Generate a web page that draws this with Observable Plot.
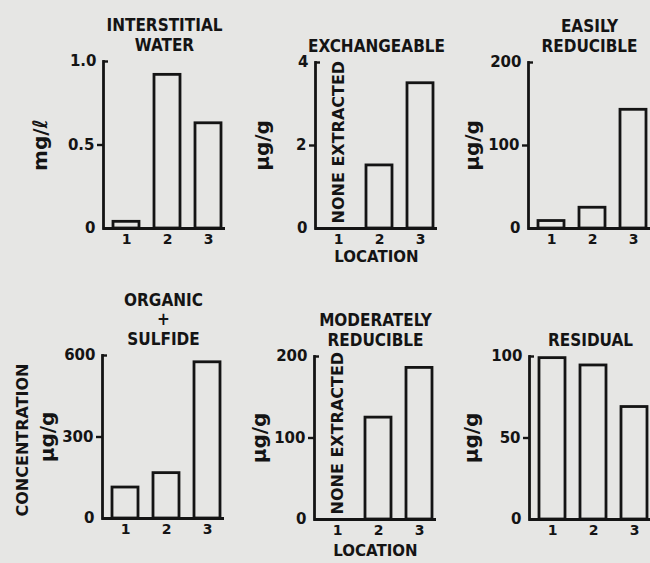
<!DOCTYPE html>
<html><head><meta charset="utf-8">
<script src="https://cdn.jsdelivr.net/npm/d3@7"></script>
<script src="https://cdn.jsdelivr.net/npm/@observablehq/plot@0.6"></script>
<style>
html,body{margin:0;padding:0;background:#e6e6e4;}
#chart{position:relative;width:650px;height:563px;background:#e6e6e4;overflow:hidden;}
#chart svg{position:absolute;left:0;top:0;}
</style></head><body><div id="chart"></div>
<script>
// ---- data ----
const locations = ["1", "2", "3"];
const titles = ["INTERSTITIAL\nWATER", "EXCHANGEABLE", "EASILY\nREDUCIBLE", "ORGANIC\n+\nSULFIDE", "MODERATELY\nREDUCIBLE", "RESIDUAL"];
const units = ["mg/ℓ", "µg/g", "µg/g", "µg/g", "µg/g", "µg/g"];
const interstitialWater = [0.04, 0.92, 0.63];
const exchangeable = [null, 1.52, 3.5];
const easilyReducible = [9, 25, 143];
const organicSulfide = [114, 167, 575];
const moderatelyReducible = [null, 125, 186];
const residual = [99, 94.5, 69];
const yMax = [1, 4, 200, 600, 200, 100];
const yMid = [0.5, 2, 100, 300, 100, 50];
const yTickLabels = [["0", "0.5", "1.0"], ["0", "2", "4"], ["0", "100", "200"], ["0", "300", "600"], ["0", "100", "200"], ["0", "50", "100"]];
const xAxisTitles = [null, "LOCATION", null, null, "LOCATION", null];
const noneLabel = "NONE EXTRACTED";
const sharedYLabel = "CONCENTRATION";
const series = [interstitialWater, exchangeable, easilyReducible, organicSulfide, moderatelyReducible, residual];

// ---- layout (pixels) ----
const W = 650, H = 563, frameW = 122;
const frames = [
  {l: 103, t: 61, b: 228, unitDx: -63, xTitleDy: 33},
  {l: 315, t: 62, b: 228, unitDx: -53, xTitleDy: 33},
  {l: 528, t: 62, b: 228, unitDx: -56, xTitleDy: 33},
  {l: 102, t: 355, b: 518, unitDx: -55, xTitleDy: 36},
  {l: 314, t: 356, b: 519, unitDx: -55, xTitleDy: 36},
  {l: 529, t: 356, b: 519, unitDx: -58, xTitleDy: 36}
];
const ink = "#141414";
const bodyFont = "DejaVu Sans, sans-serif";
const titleFont = "DejaVu Sans Condensed, DejaVu Sans, sans-serif";

function panel(i) {
  const f = frames[i];
  const values = series[i];
  const data = locations.map((loc, j) => ({loc, value: values[j]}));
  const fmt = (d) => yTickLabels[i][[0, yMid[i], yMax[i]].indexOf(d)];
  const marks = [
    Plot.barY(data.filter(d => d.value != null), {x: "loc", y: "value", fill: "none", stroke: ink, strokeWidth: 2.8}),
    Plot.frame({anchor: "left", stroke: ink, strokeWidth: 2.8}),
    Plot.ruleY([0], {stroke: ink, strokeWidth: 2.8}),
    Plot.axisY({ticks: [0], tickSize: 0, tickPadding: 8, tickFormat: fmt, fontSize: 15, fontWeight: "bold", label: null}),
    Plot.axisY({ticks: [yMid[i]], tickSize: 6, tickPadding: 3, stroke: ink, strokeWidth: 2.4, tickFormat: fmt, fontSize: 15, fontWeight: "bold", label: null}),
    Plot.axisY({ticks: [yMax[i]], tickSize: -5, tickPadding: 12, stroke: ink, strokeWidth: 2.4, tickFormat: fmt, fontSize: 15, fontWeight: "bold", label: null}),
    Plot.axisX({tickSize: 0, tickPadding: 6, fontSize: 14, fontWeight: "bold", label: null}),
    Plot.text([titles[i]], {text: d => d, frameAnchor: "top", lineAnchor: "bottom", dy: -11, lineHeight: 1.12, fontSize: 17, fontWeight: "bold", fontFamily: titleFont, fill: ink}),
    Plot.text([units[i]], {text: d => d, frameAnchor: "left", textAnchor: "middle", rotate: -90, dx: f.unitDx, fontSize: 20, fontWeight: "bold", fill: ink})
  ];
  if (xAxisTitles[i]) marks.push(Plot.text([xAxisTitles[i]], {text: d => d, frameAnchor: "bottom", dy: f.xTitleDy, fontSize: 15, fontWeight: "bold", fill: ink}));
  const missing = data.filter(d => d.value == null);
  if (missing.length) marks.push(Plot.text(missing, {x: "loc", y: 0, text: () => noneLabel, rotate: -90, textAnchor: "start", dy: -5, fontSize: 16, fontWeight: "bold", fill: ink}));
  if (i === 3) marks.push(Plot.text([sharedYLabel], {text: d => d, frameAnchor: "left", textAnchor: "middle", rotate: -90, dx: -80, dy: 3, fontSize: 16, fontWeight: "bold", fill: ink}));
  return Plot.plot({
    width: W, height: H,
    marginLeft: f.l, marginRight: W - f.l - frameW, marginTop: f.t, marginBottom: H - f.b,
    style: {background: "transparent", color: ink, fontFamily: bodyFont, fontWeight: "bold", fontSize: "15px", overflow: "visible"},
    x: {type: "band", domain: locations, paddingInner: 0.357, paddingOuter: 0.131, align: 0.75},
    y: {domain: [0, yMax[i]]},
    marks
  });
}
const chart = document.getElementById("chart");
for (let i = 0; i < 6; i++) chart.appendChild(panel(i));
</script></body></html>
